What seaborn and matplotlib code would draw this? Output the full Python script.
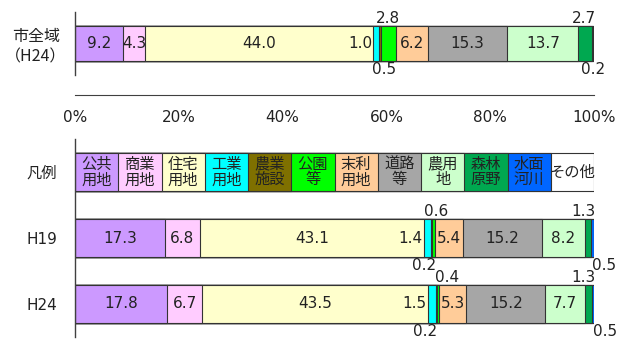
import numpy as np
import pandas as pd
import matplotlib
matplotlib.use("Agg")
import matplotlib.pyplot as plt
import seaborn as sns

# 土地利用の区分と色
categories = ["公共用地", "商業用地", "住宅用地", "工業用地", "農業施設", "公園等",
              "末利用地", "道路等", "農用地", "森林原野", "水面河川", "その他"]
legend_labels = ["公共\n用地", "商業\n用地", "住宅\n用地", "工業\n用地", "農業\n施設", "公園\n等",
                 "末利\n用地", "道路\n等", "農用\n地", "森林\n原野", "水面\n河川", "その他"]
colors = ["#CC99FF", "#FFCCFF", "#FFFFCC", "#00FFFF", "#7F7000", "#00FF00",
          "#FFCC99", "#A6A6A6", "#CCFFCC", "#00A850", "#0066FF", "#FFFFFF"]

# 構成比（%）
city_h24 = [9.2, 4.3, 44.0, 1.0, 0.5, 2.8, 6.2, 15.3, 13.7, 2.7, 0.2, 0.1]
area_h19 = [17.3, 6.8, 43.1, 1.4, 0.2, 0.6, 5.4, 15.2, 8.2, 1.3, 0.5, 0.0]
area_h24 = [17.8, 6.7, 43.5, 1.5, 0.2, 0.4, 5.3, 15.2, 7.7, 1.3, 0.5, 0.0]

# ラベル位置: c=中央, r=前の帯の右端, a=上, b=下, n=なし
label_pos = ["c", "c", "c", "r", "b", "a", "c", "c", "c", "a", "b", "n"]
# 小さい値のラベルの横ずらし（%）
nudge_city = [0, 0, 0, 0, 0.8, -0.2, 0, 0, 0, -0.2, 0, 0]
nudge_area19 = [0, 0, 0, 0, -1.4, 0.5, 0, 0, 0, -0.9, 2.2, 0]
nudge_area24 = [0, 0, 0, 0, -2.2, 1.8, 0, 0, 0, -0.9, 2.2, 0]

top_rows = ["市全域\n（H24）"]
bottom_rows = ["凡例", "H19", "H24"]
legend_vals = [100 / len(categories)] * len(categories)

sns.set_style("white")
plt.rcParams["font.family"] = ["DejaVu Sans", "Noto Sans CJK JP"]
plt.rcParams["font.size"] = 11
TXT = "#222222"
EDGE = "#333333"


def make_df(rows, values):
    recs = []
    for r, vals in zip(rows, values):
        cum = np.cumsum(vals)
        for c, v, cm in zip(categories, vals, cum):
            recs.append({"地域": r, "区分": c, "値": v, "累積": cm})
    return pd.DataFrame(recs)


def stacked(ax, df, rows, width):
    # 累積値を長い順に重ねて描く
    for i in reversed(range(len(categories))):
        sub = df[df["区分"] == categories[i]]
        sns.barplot(data=sub, x="累積", y="地域", order=rows, color=colors[i],
                    saturation=1, width=width, edgecolor=EDGE, linewidth=0.8,
                    errorbar=None, orient="h", ax=ax)


def put_labels(ax, y, vals, bar_h, nudge):
    cum = np.cumsum(vals)
    for v, c, p, dx in zip(vals, cum, label_pos, nudge):
        left = c - v
        s = f"{v:.1f}"
        if p == "c":
            ax.text(left + v / 2, y, s, ha="center", va="center", color=TXT)
        elif p == "r":
            ax.text(left - 0.2, y, s, ha="right", va="center", color=TXT)
        elif p == "a":
            ax.text(left + v / 2 + dx, y - bar_h / 2, s, ha="center", va="bottom", color=TXT)
        elif p == "b":
            ax.text(left + v / 2 + dx, y + bar_h / 2 + 0.02, s, ha="center", va="top", color=TXT)


def style_axis(ax, rows, label_font=None, label_size=11, pad=13):
    n = len(rows)
    ax.set_ylim(n - 0.5, -0.5)
    ax.set_xlim(0, 100)
    ax.set_yticks(np.arange(n + 1) - 0.5)
    ax.set_yticklabels([""] * (n + 1))
    ax.set_yticks(np.arange(n), minor=True)
    kw = dict(color=TXT, multialignment="center", fontsize=label_size)
    if label_font:
        kw["family"] = label_font
    ax.set_yticklabels(rows, minor=True, **kw)
    ax.tick_params(axis="y", which="major", direction="in", length=4, width=1, color="#404040")
    ax.tick_params(axis="y", which="minor", length=0, pad=pad)
    ax.set_xlabel("")
    ax.set_ylabel("")
    for s in ["top", "right"]:
        ax.spines[s].set_visible(False)
    ax.spines["left"].set_color("#404040")
    ax.spines["left"].set_linewidth(1)


fig = plt.figure(figsize=(6.2, 3.45), dpi=100)
ax1 = fig.add_axes([75 / 620, 1 - 75 / 345, 519 / 620, 63 / 345])
ax2 = fig.add_axes([75 / 620, 1 - 337 / 345, 519 / 620, 198 / 345])

# 上段：市全域
df_top = make_df(top_rows, [city_h24])
stacked(ax1, df_top, top_rows, 0.54)
style_axis(ax1, top_rows, label_font=["Noto Sans CJK JP", "DejaVu Sans"],
           label_size=11.5, pad=6)
put_labels(ax1, 0, city_h24, 0.54, nudge_city)
ax1.spines["bottom"].set_position(("outward", 14.5))
ax1.spines["bottom"].set_color("#404040")
ax1.set_xticks(np.arange(0, 101, 20))
ax1.set_xticklabels([f"{v}%" for v in range(0, 101, 20)], color=TXT)
ax1.tick_params(axis="x", direction="in", length=4, width=1, color="#404040", pad=11)

# 下段：凡例と地区
df_bottom = make_df(bottom_rows, [legend_vals, area_h19, area_h24])
stacked(ax2, df_bottom, bottom_rows, 0.58)
style_axis(ax2, bottom_rows)
ax2.spines["bottom"].set_visible(False)
ax2.set_xticks([])
for lab, c in zip(legend_labels, np.cumsum(legend_vals) - legend_vals[0] / 2):
    ax2.text(c, 0, lab, ha="center", va="center", linespacing=1.05, color=TXT)
put_labels(ax2, 1, area_h19, 0.58, nudge_area19)
put_labels(ax2, 2, area_h24, 0.58, nudge_area24)

fig.savefig("out.png", dpi=100)
